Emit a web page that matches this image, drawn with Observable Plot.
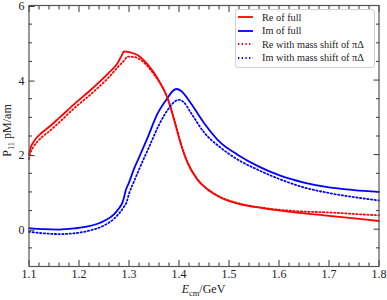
<!DOCTYPE html>
<html><head><meta charset="utf-8">
<script src="https://cdn.jsdelivr.net/npm/d3@7"></script>
<script src="https://cdn.jsdelivr.net/npm/@observablehq/plot@0.6"></script>
<style>
body{margin:0;background:#fff;}
#wrap{position:relative;width:387px;height:300px;font-family:"Liberation Serif",serif;}
#legend{position:absolute;left:235px;top:9px;width:138px;height:57px;border:1px solid #d0d0d0;border-radius:3px;background:rgba(255,255,255,0.85);font-size:10.3px;color:#222;}
#legend .row{position:absolute;left:2px;height:12px;display:flex;align-items:center;white-space:nowrap;}
#legend svg{margin-right:9px;}
</style></head><body><div id="wrap"></div>
<script>
// Data
const reFullE = [1.100,1.103,1.108,1.115,1.125,1.140,1.160,1.190,1.227,1.260,1.277,1.285,1.290,1.300,1.317,1.337,1.357,1.377,1.390,1.403,1.417,1.437,1.457,1.483,1.520,1.570,1.640,1.700,1.750,1.800];
const reFullV = [2.00,2.18,2.32,2.45,2.58,2.74,2.98,3.35,3.78,4.20,4.45,4.65,4.77,4.75,4.67,4.42,4.05,3.52,2.95,2.32,1.79,1.33,1.07,0.85,0.68,0.56,0.44,0.36,0.29,0.22];
const imFullE = [1.100,1.130,1.160,1.190,1.220,1.250,1.270,1.280,1.287,1.290,1.293,1.300,1.310,1.320,1.337,1.357,1.377,1.387,1.395,1.405,1.423,1.450,1.483,1.517,1.560,1.600,1.650,1.700,1.750,1.800];
const imFullV = [0.03,0.00,-0.01,0.02,0.08,0.22,0.40,0.56,0.72,0.85,1.02,1.25,1.62,1.92,2.45,3.10,3.52,3.70,3.76,3.70,3.39,2.85,2.32,2.00,1.68,1.45,1.25,1.12,1.05,1.00];
const reShiftE = [1.100,1.103,1.108,1.115,1.125,1.140,1.160,1.190,1.227,1.260,1.280,1.290,1.297,1.310,1.330,1.350,1.365,1.377,1.390,1.403,1.417,1.437,1.457,1.483,1.520,1.570,1.640,1.700,1.750,1.800];
const reShiftV = [1.88,2.05,2.19,2.32,2.46,2.62,2.86,3.24,3.66,4.08,4.38,4.52,4.63,4.62,4.47,4.15,3.85,3.52,2.95,2.32,1.79,1.33,1.07,0.86,0.69,0.57,0.48,0.45,0.41,0.37];
const imShiftE = [1.100,1.130,1.160,1.190,1.220,1.250,1.270,1.280,1.290,1.295,1.300,1.310,1.320,1.340,1.360,1.380,1.392,1.400,1.410,1.423,1.450,1.483,1.517,1.560,1.600,1.650,1.700,1.750,1.800];
const imShiftV = [-0.07,-0.11,-0.13,-0.11,-0.04,0.10,0.28,0.42,0.60,0.72,0.95,1.28,1.60,2.20,2.80,3.25,3.43,3.47,3.40,3.14,2.60,2.19,1.87,1.58,1.35,1.12,0.97,0.86,0.77];

const seriesNames = ["Re of full","Im of full","Re with mass shift of \u03c0\u0394","Im with mass shift of \u03c0\u0394"];
const seriesColors = ["#ff0000","#0000ff","#ff0000","#0000ff"];
const seriesDotted = [false,false,true,true];

const xMajorTicks = [1.1,1.2,1.3,1.4,1.5,1.6,1.7,1.8];
const xMinorTicks = [1.12,1.14,1.16,1.18,1.22,1.24,1.26,1.28,1.32,1.34,1.36,1.38,1.42,1.44,1.46,1.48,1.52,1.54,1.56,1.58,1.62,1.64,1.66,1.68,1.72,1.74,1.76,1.78];
const yMajorTicks = [0,2,4,6];
const yMinorTicks = [-0.5,0.5,1,1.5,2.5,3,3.5,4.5,5,5.5];

const W = 387, H = 300, mL = 28.5, mR = 8.5, mT = 5, mB = 34;
const DOT = "1.3,2.4";

const toRows = (E, V) => E.map((e, i) => ({E: e, v: V[i]}));
const series = [toRows(reFullE, reFullV), toRows(imFullE, imFullV), toRows(reShiftE, reShiftV), toRows(imShiftE, imShiftV)];

const axisColor = "#333";
const lineMarks = series.map((d, i) => Plot.line(d, {
  x: "E", y: "v", stroke: seriesColors[i], strokeWidth: 1.8,
  strokeDasharray: seriesDotted[i] ? DOT : null,
  curve: "monotone-x"
}));

const chart = Plot.plot({
  width: W, height: H,
  marginLeft: mL, marginRight: mR, marginTop: mT, marginBottom: mB,
  style: {fontFamily: "'Liberation Serif', serif", fontSize: "12px", background: "white", color: "#222", overflow: "visible"},
  x: {domain: [1.1, 1.8]},
  y: {domain: [-1, 6]},
  marks: [
    ...lineMarks,
    Plot.axisX(xMajorTicks, {anchor: "bottom", tickSize: -6, tickPadding: 9, tickFormat: d => d.toFixed(1), label: null, stroke: axisColor}),
    Plot.axisX(xMajorTicks, {anchor: "top", tickSize: -6, text: null, label: null, stroke: axisColor}),
    Plot.axisX(xMinorTicks, {anchor: "bottom", tickSize: -3.5, text: null, label: null, stroke: axisColor}),
    Plot.axisX(xMinorTicks, {anchor: "top", tickSize: -3.5, text: null, label: null, stroke: axisColor}),
    Plot.axisY(yMajorTicks, {anchor: "left", tickSize: -6, tickPadding: 10.5, tickFormat: d => String(d), label: null, stroke: axisColor, dy: 1}),
    Plot.axisY(yMajorTicks, {anchor: "right", tickSize: -6, text: null, label: null, stroke: axisColor}),
    Plot.axisY(yMinorTicks, {anchor: "left", tickSize: -3.5, text: null, label: null, stroke: axisColor}),
    Plot.axisY(yMinorTicks, {anchor: "right", tickSize: -3.5, text: null, label: null, stroke: axisColor}),
    Plot.frame({stroke: "#555", strokeWidth: 1.2})
  ]
});

const wrap = document.getElementById("wrap");
wrap.appendChild(chart);

// Axis titles with sub-scripts
const svg = d3.select(chart);
const cx = mL + (W - mL - mR) / 2;
const cy = mT + (H - mT - mB) / 2;
const xl = svg.append("text").attr("x", cx).attr("y", 293).attr("text-anchor", "middle")
  .attr("font-size", 12).attr("fill", "#222");
xl.append("tspan").attr("font-style", "italic").text("E");
xl.append("tspan").attr("font-size", 8.5).attr("dy", 2.5).text("cm");
xl.append("tspan").attr("dy", -2.5).text("/GeV");

const yl = svg.append("text").attr("transform", `translate(11,${cy - 5}) rotate(-90)`).attr("text-anchor", "middle")
  .attr("font-size", 12).attr("fill", "#222");
yl.append("tspan").text("P");
yl.append("tspan").attr("font-size", 8.5).attr("dy", 2.5).text("11");
yl.append("tspan").attr("dy", -2.5).text(" pM/am");

// Legend
const legend = document.createElement("div");
legend.id = "legend";
seriesNames.forEach((name, i) => {
  const row = document.createElement("div");
  row.className = "row";
  row.style.top = (1 + i * 13.6) + "px";
  row.innerHTML = `<svg width="15" height="6"><line x1="0" x2="15" y1="3" y2="3" stroke="${seriesColors[i]}" stroke-width="1.8" ${seriesDotted[i] ? `stroke-dasharray="${DOT}"` : ''}/></svg><span>${name}</span>`;
  legend.appendChild(row);
});
wrap.appendChild(legend);
</script>
</body></html>
